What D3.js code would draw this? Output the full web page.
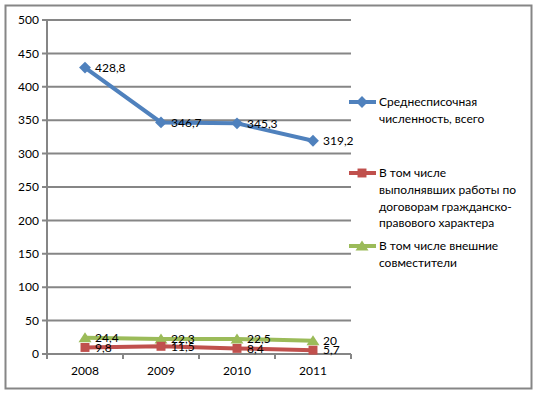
<!DOCTYPE html>
<html><head><meta charset="utf-8">
<script src="https://cdn.jsdelivr.net/npm/d3@7"></script>
<style>body{margin:0;background:#fff}svg{display:block}text{font-family:Lato,"Liberation Sans",sans-serif;font-size:12px;fill:#000}</style>
</head><body>
<script>
const years = ["2008","2009","2010","2011"];
const seriesNames = ["Среднесписочная численность, всего","В том числе выполнявших работы по договорам гражданско-правового характера","В том числе внешние совместители"];
const total = [428.8, 346.7, 345.3, 319.2];
const contract = [9.8, 11.5, 8.4, 5.7];
const external = [24.4, 22.3, 22.5, 20];
const yTicks = [0,50,100,150,200,250,300,350,400,450,500];
const legendLines = [["Среднесписочная","численность, всего"],["В том числе","выполнявших работы по","договорам гражданско-","правового характера"],["В том числе внешние","совместители"]];
const colors = ["#4F81BD","#C0504D","#9BBB59"];
const fmt = v => String(v).replace(".", ",");

const W=536,H=394;
const svg=d3.select("body").append("svg").attr("width",W).attr("height",H);
svg.append("rect").attr("x",5.5).attr("y",5.5).attr("width",526).attr("height",383).attr("fill","#fff").attr("stroke","#868686").attr("stroke-width",2);

const x=d3.scaleBand().domain(years).range([47,351]);
const y=d3.scaleLinear().domain([0,500]).range([354,20]);

const g=svg.append("g");
g.selectAll(".grid").data(yTicks).join("line").attr("x1",42).attr("x2",351)
 .attr("y1",d=>y(d)).attr("y2",d=>y(d)).attr("stroke","#868686").attr("stroke-width",2);
g.append("line").attr("x1",47).attr("x2",47).attr("y1",y(500)).attr("y2",y(0)+5).attr("stroke","#868686").attr("stroke-width",2);
const xt=[...years.map(d=>x(d)), x.range()[1]];
g.selectAll(".xt").data(xt).join("line").attr("x1",d=>d).attr("x2",d=>d).attr("y1",y(0)).attr("y2",y(0)+5).attr("stroke","#868686").attr("stroke-width",2);
g.selectAll(".yl").data(yTicks).join("text").attr("x",39).attr("y",d=>y(d)).attr("dy","0.35em").attr("text-anchor","end").text(d=>d);
g.selectAll(".xl").data(years).join("text").attr("x",d=>x(d)+x.bandwidth()/2).attr("y",375).attr("text-anchor","middle").text(d=>d);

function marker(sel,i){
  if(i===0) sel.attr("d",d3.symbol(d3.symbolSquare,70)).attr("data-rot",45);
  else if(i===1) sel.attr("d",d3.symbol(d3.symbolSquare,80));
  else sel.attr("d","M0,-5.5L6.5,4.5L-6.5,4.5Z");
}
const series=[total,contract,external];
const cx=d=>x(d)+x.bandwidth()/2;
series.forEach((vals,i)=>{
  const line=d3.line().x((v,j)=>cx(years[j])).y(v=>y(v));
  g.append("path").datum(vals).attr("d",line).attr("fill","none").attr("stroke",colors[i]).attr("stroke-width",4);
});
[2,1,0].forEach(i=>{
  const vals=series[i];
  g.selectAll(".m"+i).data(vals).join("path").call(marker,i)
   .attr("transform",(v,j)=>`translate(${cx(years[j])},${y(v)}) rotate(${i===0?45:0})`).attr("fill",colors[i]);
});
series.forEach((vals,i)=>{
  g.selectAll(".l"+i).data(vals).join("text").attr("x",(v,j)=>cx(years[j])+10).attr("y",v=>y(v)).attr("dy","0.35em").text(fmt);
});

const legY=[102,173,246];
legendLines.forEach((lines,i)=>{
  const lg=svg.append("g");
  lg.append("line").attr("x1",349).attr("x2",376).attr("y1",legY[i]).attr("y2",legY[i]).attr("stroke",colors[i]).attr("stroke-width",4);
  lg.append("path").call(marker,i).attr("transform",`translate(362,${legY[i]}) rotate(${i===0?45:0})`).attr("fill",colors[i]);
  lines.forEach((t,k)=>lg.append("text").attr("x",379).attr("y",legY[i]+k*(i===1?16.7:16.5)).attr("dy","0.35em").text(t));
});
</script>
</body></html>
